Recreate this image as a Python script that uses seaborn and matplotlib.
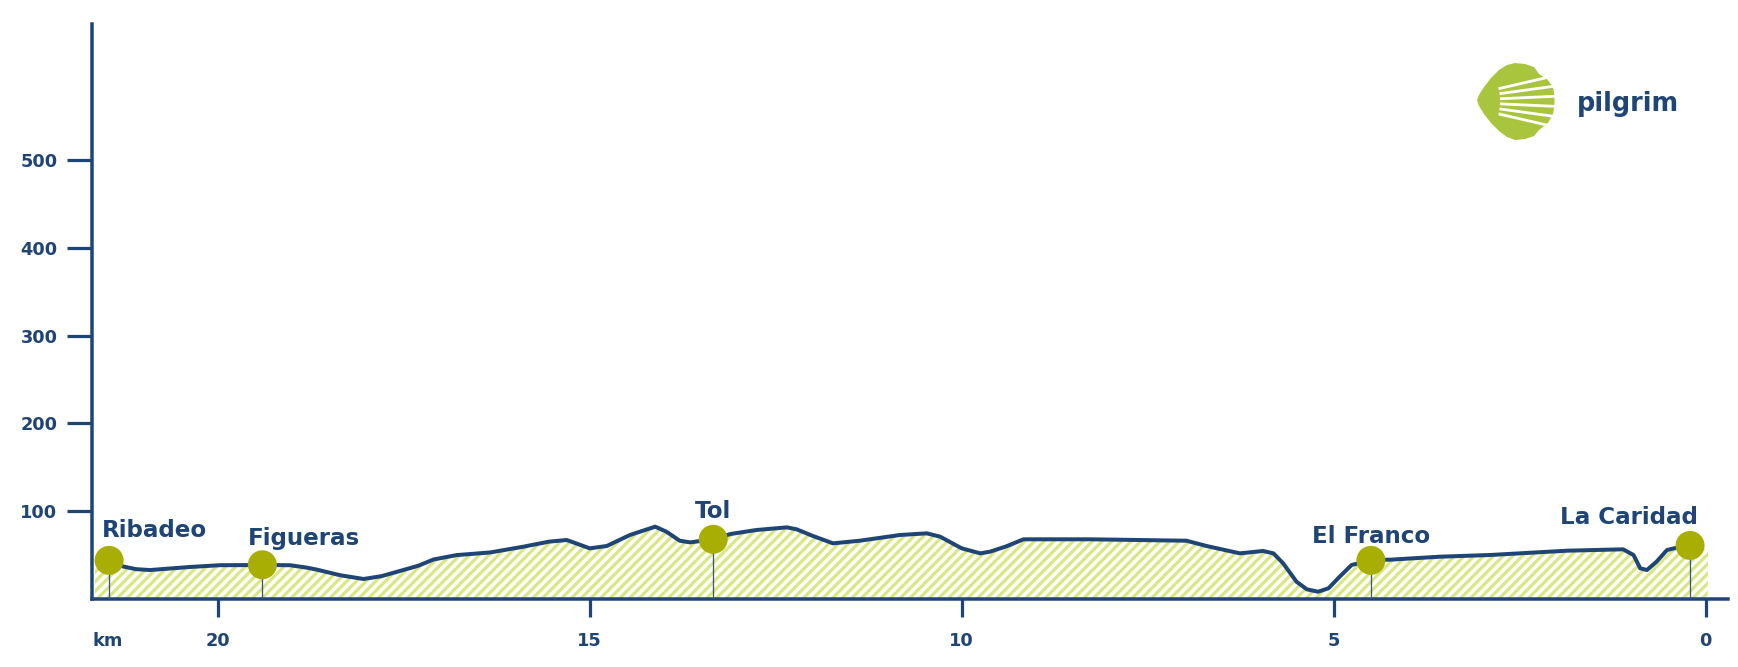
import numpy as np
import matplotlib
matplotlib.use('Agg')
import matplotlib.pyplot as plt
import seaborn as sns
from matplotlib.patches import Polygon

# Elevation profile, km to go vs elevation (m)
km = [21.65, 21.46, 21.27, 21.10, 20.91, 20.37, 19.97, 19.40, 19.03, 18.80,
      18.67, 18.35, 18.04, 17.80, 17.59, 17.30, 17.10, 16.79, 16.34, 15.89,
      15.55, 15.31, 15.22, 15.00, 14.77, 14.46, 14.12, 13.97, 13.79, 13.65,
      13.34, 13.11, 12.76, 12.35, 12.22, 12.00, 11.73, 11.37, 10.83, 10.47,
      10.29, 10.00, 9.75, 9.62, 9.40, 9.17, 8.28, 6.98, 6.71, 6.26,
      5.95, 5.81, 5.68, 5.50, 5.36, 5.21, 5.07, 4.92, 4.76, 4.50,
      4.24, 3.57, 2.90, 1.87, 1.11, 0.97, 0.88, 0.79, 0.66, 0.52,
      0.39, 0.21, -0.03]
elev = [43, 44, 37, 34, 33, 36.5, 38.5, 38.7, 38.5, 35.7,
        33.5, 27, 22.8, 26, 31, 38, 45, 50, 53, 59.6,
        65.3, 67.2, 64.5, 57.7, 60.4, 72.9, 82.4, 76.7, 66.4, 64.5,
        68, 74, 78.6, 81.6, 79.4, 71.8, 63.4, 66.4, 72.9, 74.8,
        71, 57.7, 52, 53.9, 60, 68, 68, 66.4, 60.4, 52,
        54.7, 52, 40.7, 19.7, 11, 8.3, 12.2, 25.4, 38.7, 44.4,
        44.8, 48.2, 50.1, 55, 56.6, 50.1, 35, 33, 42.5, 55.8,
        58.4, 60.7, 56]

# Towns along the stage
towns = ['Ribadeo', 'Figueras', 'Tol', 'El Franco', 'La Caridad']
town_km = [21.46, 19.40, 13.34, 4.50, 0.21]
town_elev = [44, 39, 68, 44, 61]

y_ticks = [100, 200, 300, 400, 500]
x_ticks = [20, 15, 10, 5, 0]

NAVY = '#1f4577'
OLIVE = '#a9ae05'
HATCH = '#dbe783'
LIME = '#a9c43d'

# draw at this dpi so the hatch gets the reference stripe spacing
DPI = 87.6
W, H = 1738, 667


def pt(px):
    return px * 72 / DPI


sns.set_style('white')
plt.rcParams['font.family'] = ['DejaVu Sans']
plt.rcParams['hatch.linewidth'] = pt(3.2)

fig = plt.figure(figsize=(W / DPI, H / DPI), dpi=DPI)
ax = fig.add_axes([92 / W, 68 / H, 1636 / W, 575 / H])

# hatched area under the profile
ax.fill_between(km, 0, elev, facecolor='white', edgecolor=HATCH,
                hatch='///', linewidth=0, zorder=1)

# profile line between first and last town
sns.lineplot(x=km[1:-1], y=elev[1:-1], sort=False, color=NAVY,
             linewidth=pt(4), solid_joinstyle='round',
             solid_capstyle='round', ax=ax, zorder=3)

# stems + town markers
ax.vlines(town_km, 0, town_elev, color='#3d5680', linewidth=pt(1.3), zorder=4)
sns.scatterplot(x=town_km, y=town_elev, s=pt(29) ** 2, color=OLIVE,
                edgecolor='none', ax=ax, zorder=5, legend=False)

label_style = {
    'Ribadeo': ('left', -7, 23),
    'Figueras': ('left', -14, 20),
    'Tol': ('center', 0, 21),
    'El Franco': ('center', 0, 17),
    'La Caridad': ('right', 8, 21),
}
for name, x, y in zip(towns, town_km, town_elev):
    ha, dx, dy = label_style[name]
    ax.annotate(name, (x, y), xytext=(pt(dx), pt(dy)),
                textcoords='offset points', ha=ha, va='baseline',
                fontsize=pt(23), fontweight='bold', color=NAVY, zorder=6)

ax.set_xlim(21.69, -0.30)
ax.set_ylim(0, 655)
ax.set_xticks(x_ticks)
ax.set_xticklabels([str(t) for t in x_ticks])
ax.set_yticks(y_ticks)
ax.set_yticklabels([str(t) for t in y_ticks])
ax.tick_params(axis='y', left=True, direction='out', length=pt(25.5),
               width=pt(3.2), color=NAVY, pad=pt(9), labelsize=pt(17.8),
               labelcolor=NAVY)
ax.tick_params(axis='x', bottom=True, direction='out', length=pt(18),
               width=pt(3.2), color=NAVY, pad=pt(15), labelsize=pt(17.8),
               labelcolor=NAVY)
for lab in ax.get_xticklabels() + ax.get_yticklabels():
    lab.set_fontweight('bold')

for side in ['top', 'right']:
    ax.spines[side].set_visible(False)
for side in ['left', 'bottom']:
    ax.spines[side].set_color(NAVY)
    ax.spines[side].set_linewidth(pt(3.5))
ax.set_xlabel('')
ax.set_ylabel('')

fig.text(107.5 / W, (H - 641) / H, 'km', ha='center', va='center',
         fontsize=pt(17.8), fontweight='bold', color=NAVY)

# pilgrim logo (shell + word)
lax = fig.add_axes([1441 / W, 521 / H, 120 / W, 84 / H])
lax.set_xlim(-36, 84)
lax.set_ylim(-4, 80)
lax.axis('off')
shell = [(57, 75), (48, 78), (38, 79), (30, 77), (22, 72), (14, 64), (7, 55),
         (2, 47), (0, 42), (2, 36), (7, 28), (14, 19), (22, 11), (30, 5),
         (38, 2), (48, 3), (57, 6), (62, 12), (71, 19), (76, 28), (77.5, 37),
         (77.5, 46), (76, 55), (70, 63), (62, 68)]
lax.add_patch(Polygon(shell, closed=True, facecolor=LIME, edgecolor='none'))
for a in np.deg2rad([-13, -7.8, -2.6, 2.6, 7.8, 13]):
    lax.plot([-33 + 56 * np.cos(a), -33 + 130 * np.cos(a)],
             [40.7 + 56 * np.sin(a), 40.7 + 130 * np.sin(a)],
             color='white', linewidth=pt(2.8), solid_capstyle='butt')
fig.text(1577 / W, 556 / H, 'pilgrim', ha='left', va='baseline',
         fontsize=pt(25.7), fontweight='bold', color=NAVY)

fig.savefig('out.png', dpi=DPI, facecolor='white')
